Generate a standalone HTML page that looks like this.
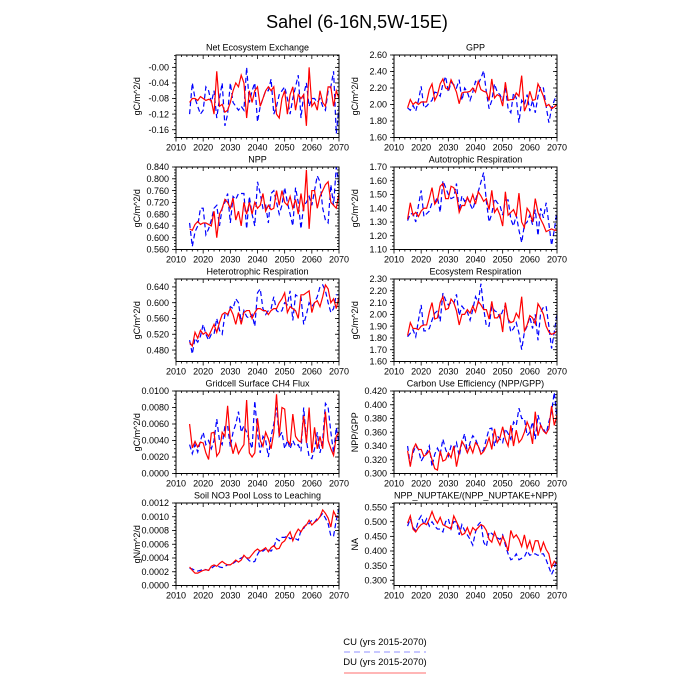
<!DOCTYPE html>
<html><head><meta charset="utf-8"><style>
html,body{margin:0;padding:0;background:#fff;}
svg{display:block;font-family:"Liberation Sans",Arial,sans-serif;}
</style></head><body>
<svg id="chart" width="700" height="700" viewBox="0 0 700 700">
<text x="357" y="28" font-size="18" text-anchor="middle">Sahel (6-16N,5W-15E)</text>
<g>
<text x="385" y="645" font-size="9.5" text-anchor="middle">CU (yrs 2015-2070)</text>
<line x1="344" y1="652" x2="426" y2="652" stroke="#a8a8ff" stroke-width="1.2" stroke-dasharray="6,4"/>
<text x="385" y="665" font-size="9.5" text-anchor="middle">DU (yrs 2015-2070)</text>
<line x1="344" y1="673" x2="426" y2="673" stroke="#ff8a8a" stroke-width="1.2"/>
</g>
</svg>
<script>
const years = [2010, 2020, 2030, 2040, 2050, 2060, 2070];
const startYear = 2015;

const neeRed = [-0.09,-0.08,-0.08,-0.085,-0.075,-0.08,-0.085,-0.082,-0.085,-0.12,
-0.01,-0.10,-0.095,-0.115,-0.11,-0.09,-0.06,-0.04,-0.05,-0.02,
-0.04,-0.13,-0.06,-0.09,-0.06,-0.05,-0.10,-0.08,-0.06,-0.05,
-0.06,-0.05,-0.12,-0.13,-0.08,-0.06,-0.12,-0.07,-0.05,-0.11,
-0.07,-0.08,-0.07,-0.15,0.0,-0.10,-0.09,-0.11,-0.06,-0.09,
-0.10,-0.05,-0.05,-0.10,-0.06,-0.08];
const neeBlue = [-0.12,-0.04,-0.08,-0.10,-0.12,-0.11,-0.05,-0.06,-0.09,-0.06,
-0.13,-0.08,-0.04,-0.15,-0.12,-0.04,-0.09,-0.10,-0.11,-0.10,
-0.11,0.0,-0.09,-0.06,-0.04,-0.14,-0.10,-0.08,-0.06,-0.06,
-0.03,-0.12,-0.10,-0.07,-0.06,-0.05,-0.08,-0.12,-0.08,-0.05,
-0.02,-0.13,-0.07,-0.04,-0.10,-0.08,-0.08,-0.09,-0.08,-0.10,
-0.11,-0.06,-0.05,-0.01,-0.17,-0.10];
const neeTicks = [0,-0.04,-0.08,-0.12,-0.16];
const neeTickLabels = ["-0.00","-0.04","-0.08","-0.12","-0.16"];

const gppRed = [1.96,2.06,2.00,2.03,2.00,2.03,2.03,2.03,2.18,2.25,
2.05,2.12,2.25,2.31,2.20,2.18,2.30,2.23,2.15,2.01,
2.14,2.15,2.15,2.16,2.20,2.15,2.28,2.18,2.16,2.15,
2.05,2.31,2.08,2.12,2.10,1.98,2.27,2.05,2.06,2.06,
2.14,2.10,2.35,1.92,2.00,2.16,2.05,2.06,2.25,2.18,
2.10,1.98,2.00,1.95,1.97,2.00];
const gppBlue = [1.96,1.93,1.99,1.92,2.05,2.22,1.96,1.98,2.02,2.05,
2.15,2.14,2.10,2.25,2.34,2.15,2.27,2.24,2.20,2.30,
2.05,2.20,2.15,2.05,2.15,2.28,2.25,2.32,2.41,2.15,
1.95,2.05,2.25,2.15,2.12,2.05,2.22,1.95,1.90,2.14,
2.08,1.78,2.05,2.00,2.12,1.92,2.05,1.90,2.10,2.22,
2.20,1.98,1.78,1.95,2.05,2.12];
const gppTicks = [1.6,1.8,2.0,2.2,2.4,2.6];
const gppTickLabels = ["1.60","1.80","2.00","2.20","2.40","2.60"];

const nppRed = [0.63,0.625,0.645,0.655,0.645,0.65,0.65,0.645,0.64,0.69,
0.60,0.68,0.70,0.73,0.72,0.70,0.735,0.66,0.69,0.64,
0.72,0.68,0.72,0.68,0.72,0.70,0.71,0.75,0.69,0.71,
0.695,0.70,0.76,0.71,0.76,0.72,0.71,0.74,0.70,0.73,
0.68,0.75,0.69,0.83,0.63,0.76,0.76,0.70,0.74,0.76,
0.78,0.79,0.72,0.71,0.70,0.75];
const nppBlue = [0.65,0.57,0.62,0.64,0.70,0.70,0.61,0.63,0.66,0.70,
0.71,0.64,0.70,0.72,0.75,0.65,0.74,0.73,0.75,0.75,
0.75,0.63,0.74,0.68,0.64,0.79,0.75,0.70,0.71,0.65,
0.75,0.76,0.72,0.68,0.71,0.77,0.72,0.68,0.64,0.77,
0.72,0.63,0.71,0.72,0.74,0.71,0.76,0.81,0.79,0.70,
0.66,0.65,0.78,0.71,0.84,0.78];
const nppTicks = [0.56,0.60,0.64,0.68,0.72,0.76,0.80,0.84];
const nppTickLabels = ["0.560","0.600","0.640","0.680","0.720","0.760","0.800","0.840"];

const arRed = [1.32,1.44,1.35,1.37,1.34,1.38,1.40,1.40,1.47,1.55,
1.43,1.46,1.56,1.58,1.47,1.47,1.56,1.55,1.50,1.37,
1.42,1.42,1.48,1.44,1.50,1.43,1.52,1.49,1.45,1.47,
1.39,1.53,1.37,1.40,1.35,1.27,1.52,1.35,1.37,1.39,
1.34,1.51,1.30,1.26,1.40,1.37,1.30,1.47,1.37,1.32,
1.28,1.23,1.24,1.25,1.24,1.24];
const arBlue = [1.31,1.36,1.36,1.30,1.42,1.53,1.34,1.36,1.38,1.44,
1.44,1.48,1.37,1.60,1.55,1.50,1.47,1.48,1.58,1.38,
1.49,1.45,1.48,1.43,1.39,1.46,1.52,1.59,1.66,1.45,
1.30,1.36,1.47,1.44,1.42,1.35,1.46,1.46,1.32,1.27,
1.35,1.24,1.15,1.28,1.30,1.35,1.28,1.39,1.20,1.40,
1.33,1.44,1.29,1.13,1.24,1.38];
const arTicks = [1.1,1.2,1.3,1.4,1.5,1.6,1.7];
const arTickLabels = ["1.10","1.20","1.30","1.40","1.50","1.60","1.70"];

const hrRed = [0.50,0.49,0.525,0.51,0.53,0.52,0.525,0.515,0.53,0.545,
0.525,0.55,0.57,0.575,0.57,0.585,0.57,0.545,0.575,0.545,
0.575,0.58,0.58,0.56,0.575,0.585,0.585,0.58,0.58,0.57,
0.58,0.585,0.585,0.60,0.61,0.625,0.575,0.59,0.585,0.58,
0.56,0.62,0.62,0.625,0.63,0.575,0.60,0.605,0.59,0.615,
0.645,0.635,0.60,0.61,0.585,0.615];
const hrBlue = [0.505,0.47,0.51,0.50,0.515,0.545,0.52,0.505,0.52,0.52,
0.56,0.53,0.52,0.57,0.565,0.59,0.585,0.61,0.60,0.55,
0.58,0.565,0.56,0.57,0.54,0.625,0.635,0.585,0.57,0.58,
0.585,0.615,0.58,0.575,0.58,0.60,0.595,0.63,0.555,0.62,
0.615,0.615,0.545,0.57,0.60,0.59,0.60,0.615,0.64,0.645,
0.63,0.60,0.575,0.585,0.62,0.62];
const hrTicks = [0.48,0.52,0.56,0.60,0.64];
const hrTickLabels = ["0.480","0.520","0.560","0.600","0.640"];

const erRed = [1.82,1.93,1.88,1.88,1.87,1.90,1.91,1.91,2.02,2.10,
1.96,1.97,2.10,2.15,2.04,2.05,2.13,2.10,2.03,1.91,
2.00,2.00,2.04,2.01,2.07,2.02,2.11,2.08,2.04,2.04,
1.96,2.11,1.97,1.97,2.00,1.85,2.10,1.96,1.93,1.94,
2.01,1.97,2.15,1.86,1.91,1.99,1.97,1.92,2.09,2.05,
2.00,1.90,1.85,1.83,1.84,1.86];
const erBlue = [1.81,1.84,1.87,1.81,1.95,2.08,1.86,1.86,1.88,1.95,
2.01,2.03,1.94,2.18,2.12,2.08,2.10,2.09,2.17,1.99,
2.07,2.04,2.02,1.95,2.04,2.15,2.10,2.26,2.05,1.90,
1.90,2.07,2.03,2.02,1.97,2.03,2.08,1.97,1.85,1.88,
1.93,1.84,1.70,1.85,1.90,1.98,1.88,2.00,1.78,2.02,
2.06,2.07,1.90,1.71,1.85,2.00];
const erTicks = [1.6,1.7,1.8,1.9,2.0,2.1,2.2,2.3];
const erTickLabels = ["1.60","1.70","1.80","1.90","2.00","2.10","2.20","2.30"];

const ch4Red = [0.0060,0.0031,0.0039,0.0032,0.0038,0.0037,0.0025,0.0017,0.0049,0.0050,
0.0021,0.0026,0.0050,0.0045,0.0082,0.0040,0.0024,0.0036,0.0024,0.0030,
0.0035,0.0089,0.0025,0.0020,0.0025,0.0067,0.0040,0.0033,0.0050,0.0042,
0.0030,0.0050,0.0096,0.0045,0.0080,0.0078,0.0040,0.0035,0.0072,0.0045,
0.0040,0.0038,0.0070,0.0037,0.0080,0.0025,0.0056,0.0030,0.0045,0.0030,
0.0075,0.0040,0.0030,0.0022,0.0045,0.0050];
const ch4Blue = [0.0035,0.0024,0.0035,0.0026,0.0040,0.0050,0.0035,0.0040,0.0030,0.0040,
0.0066,0.0040,0.0035,0.0057,0.0058,0.0032,0.0050,0.0060,0.0075,0.0050,
0.0058,0.0050,0.0040,0.0030,0.0088,0.0050,0.0025,0.0045,0.0040,0.0020,
0.0045,0.0060,0.0080,0.0045,0.0050,0.0030,0.0040,0.0030,0.0040,0.0033,
0.0035,0.0027,0.0080,0.0040,0.0020,0.0018,0.0030,0.0050,0.0025,0.0040,
0.0085,0.0080,0.0050,0.0025,0.0056,0.0035];
const ch4Ticks = [0,0.002,0.004,0.006,0.008,0.010];
const ch4TickLabels = ["0.0000","0.0020","0.0040","0.0060","0.0080","0.0100"];

const cueRed = [0.333,0.310,0.335,0.343,0.335,0.335,0.325,0.328,0.333,0.320,
0.307,0.305,0.333,0.318,0.320,0.330,0.323,0.340,0.310,0.330,
0.347,0.340,0.330,0.340,0.330,0.345,0.340,0.328,0.332,0.340,
0.352,0.335,0.365,0.345,0.352,0.368,0.350,0.340,0.370,0.340,
0.363,0.345,0.350,0.360,0.375,0.365,0.343,0.390,0.355,0.370,
0.362,0.358,0.365,0.398,0.370,0.385];
const cueBlue = [0.340,0.312,0.330,0.340,0.335,0.318,0.325,0.330,0.340,0.310,
0.328,0.337,0.328,0.350,0.335,0.325,0.340,0.335,0.345,0.325,
0.345,0.358,0.330,0.345,0.355,0.350,0.340,0.330,0.335,0.350,
0.365,0.366,0.340,0.355,0.350,0.345,0.365,0.358,0.350,0.375,
0.370,0.395,0.380,0.380,0.355,0.360,0.375,0.350,0.385,0.370,
0.365,0.358,0.375,0.390,0.418,0.380];
const cueTicks = [0.30,0.32,0.34,0.36,0.38,0.40,0.42];
const cueTickLabels = ["0.300","0.320","0.340","0.360","0.380","0.400","0.420"];

const no3Red = [0.00027,0.00022,0.00018,0.00018,0.00020,0.00022,0.00023,0.00022,0.00028,0.00030,
0.00028,0.00032,0.00035,0.00032,0.00030,0.00030,0.00033,0.00037,0.00034,0.00037,
0.00044,0.00040,0.00040,0.00045,0.00050,0.00053,0.00050,0.00052,0.00055,0.00049,
0.00055,0.00058,0.00053,0.00054,0.00062,0.00065,0.00072,0.00078,0.00065,0.00075,
0.00082,0.00078,0.00085,0.00088,0.00095,0.00088,0.00092,0.00095,0.00100,0.00110,
0.00105,0.00098,0.00085,0.00108,0.00100,0.00099];
const no3Blue = [0.00025,0.00024,0.00022,0.00021,0.00022,0.00024,0.00023,0.00022,0.00025,0.00028,
0.00030,0.00027,0.00026,0.00028,0.00030,0.00030,0.00032,0.00035,0.00038,0.00040,
0.00042,0.00040,0.00036,0.00034,0.00035,0.00045,0.00052,0.00050,0.00053,0.00052,
0.00050,0.00055,0.00068,0.00065,0.00070,0.00070,0.00072,0.00068,0.00070,0.00068,
0.00066,0.00080,0.00083,0.00090,0.00090,0.00095,0.00092,0.00098,0.00100,0.00105,
0.00098,0.00090,0.00072,0.00072,0.00095,0.00112];
const no3Ticks = [0,0.0002,0.0004,0.0006,0.0008,0.0010,0.0012];
const no3TickLabels = ["0.0000","0.0002","0.0004","0.0006","0.0008","0.0010","0.0012"];

const naRed = [0.495,0.52,0.475,0.465,0.48,0.49,0.495,0.49,0.51,0.535,
0.51,0.495,0.515,0.49,0.485,0.48,0.475,0.52,0.50,0.48,
0.455,0.46,0.48,0.455,0.48,0.47,0.48,0.49,0.485,0.47,
0.44,0.43,0.465,0.44,0.42,0.45,0.43,0.40,0.47,0.445,
0.455,0.44,0.415,0.455,0.41,0.435,0.40,0.435,0.435,0.40,
0.43,0.405,0.39,0.345,0.365,0.355];
const naBlue = [0.485,0.51,0.48,0.47,0.505,0.52,0.49,0.51,0.485,0.50,
0.485,0.475,0.475,0.465,0.50,0.51,0.475,0.50,0.50,0.455,
0.49,0.47,0.455,0.44,0.42,0.465,0.49,0.50,0.43,0.415,
0.465,0.46,0.45,0.445,0.44,0.455,0.42,0.39,0.37,0.375,
0.39,0.37,0.375,0.38,0.40,0.385,0.39,0.39,0.385,0.39,
0.39,0.37,0.345,0.32,0.34,0.38];
const naTicks = [0.30,0.35,0.40,0.45,0.50,0.55];
const naTickLabels = ["0.300","0.350","0.400","0.450","0.500","0.550"];

const NS = "http://www.w3.org/2000/svg";
const svg = document.getElementById("chart");
function mk(tag, attrs, parent) {
  const e = document.createElementNS(NS, tag);
  for (const k in attrs) e.setAttribute(k, attrs[k]);
  parent.appendChild(e);
  return e;
}

const panels = [
  {name:"nee", title:"Net Ecosystem Exchange", ytitle:"gC/m^2/d", col:0, row:0, ymin:-0.18, ymax:0.0317, minor:0.01, red:neeRed, blue:neeBlue, ticks:neeTicks, labels:neeTickLabels},
  {name:"gpp", title:"GPP", ytitle:"gC/m^2/d", col:1, row:0, ymin:1.6, ymax:2.6, minor:0.05, red:gppRed, blue:gppBlue, ticks:gppTicks, labels:gppTickLabels},
  {name:"npp", title:"NPP", ytitle:"gC/m^2/d", col:0, row:1, ymin:0.56, ymax:0.84, minor:0.01, red:nppRed, blue:nppBlue, ticks:nppTicks, labels:nppTickLabels},
  {name:"ar", title:"Autotrophic Respiration", ytitle:"gC/m^2/d", col:1, row:1, ymin:1.1, ymax:1.7, minor:0.025, red:arRed, blue:arBlue, ticks:arTicks, labels:arTickLabels},
  {name:"hr", title:"Heterotrophic Respiration", ytitle:"gC/m^2/d", col:0, row:2, ymin:0.451, ymax:0.66, minor:0.01, red:hrRed, blue:hrBlue, ticks:hrTicks, labels:hrTickLabels},
  {name:"er", title:"Ecosystem Respiration", ytitle:"gC/m^2/d", col:1, row:2, ymin:1.6, ymax:2.3, minor:0.025, red:erRed, blue:erBlue, ticks:erTicks, labels:erTickLabels},
  {name:"ch4", title:"Gridcell Surface CH4 Flux", ytitle:"gC/m^2/d", col:0, row:3, ymin:0, ymax:0.010, minor:0.0005, red:ch4Red, blue:ch4Blue, ticks:ch4Ticks, labels:ch4TickLabels},
  {name:"cue", title:"Carbon Use Efficiency (NPP/GPP)", ytitle:"NPP/GPP", col:1, row:3, ymin:0.30, ymax:0.42, minor:0.005, red:cueRed, blue:cueBlue, ticks:cueTicks, labels:cueTickLabels},
  {name:"no3", title:"Soil NO3 Pool Loss to Leaching", ytitle:"gN/m^2/d", col:0, row:4, ymin:0, ymax:0.0012, minor:0.00005, red:no3Red, blue:no3Blue, ticks:no3Ticks, labels:no3TickLabels},
  {name:"na", title:"NPP_NUPTAKE/(NPP_NUPTAKE+NPP)", ytitle:"NA", col:1, row:4, ymin:0.282, ymax:0.564, minor:0.0125, red:naRed, blue:naBlue, ticks:naTicks, labels:naTickLabels}
];

const colX = [176, 394];
const plotW = 163;
const rowY = [55, 167, 279, 391, 503];
const plotH = 82.5;

panels.forEach(p => {
  const x0 = colX[p.col], y0 = rowY[p.row];
  const g = mk("g", {}, svg);
  
  
  const xs = yr => x0 + (yr - 2010) / 60 * plotW;
  const ys = v => y0 + plotH - (v - p.ymin) / (p.ymax - p.ymin) * plotH;

  const t = mk("text", {x: x0 + plotW/2, y: y0 - 4.5, "font-size": 9, "text-anchor": "middle"}, g);
  t.textContent = p.title;
  
  

  const yt = mk("text", {x: 0, y: 0, "font-size": 9, "text-anchor": "middle", transform: `translate(${x0 - 36},${y0 + plotH/2}) rotate(-90)`}, g);
  yt.textContent = p.ytitle;
  
  

  const mkPath = (arr) => arr.map((v, i) => (i ? "L" : "M") + xs(startYear + i).toFixed(2) + "," + ys(v).toFixed(2)).join(" ");
  const pb = mk("path", {d: mkPath(p.blue), fill: "none", stroke: "#0000ff", "stroke-width": 1.2, "stroke-dasharray": "5,3"}, g);
  
  
  const pr = mk("path", {d: mkPath(p.red), fill: "none", stroke: "#ff0000", "stroke-width": 1.2}, g);
  
  

  const fr = mk("rect", {x: x0, y: y0, width: plotW, height: plotH, fill: "none", stroke: "#000", "stroke-width": 1}, g);
  
  

  const xa = mk("g", {stroke: "#000", "stroke-width": 0.8}, g);
  
  
  for (let yr = 2010; yr <= 2070; yr += 2) {
    const major = (yr % 10 === 0);
    const L = major ? 4 : 2;
    const xx = xs(yr);
    mk("line", {x1: xx, x2: xx, y1: y0 + plotH, y2: y0 + plotH + L}, xa);
    mk("line", {x1: xx, x2: xx, y1: y0, y2: y0 + L}, xa);
  }
  years.forEach(yr => {
    const lt = mk("text", {x: xs(yr), y: y0 + plotH + 13, "font-size": 9, "text-anchor": "middle", stroke: "none"}, g);
    lt.textContent = String(yr);
    
    
  });

  const ya = mk("g", {stroke: "#000", "stroke-width": 0.8}, g);
  
  
  const nMinor = Math.round((p.ymax - p.ymin) / p.minor) + 2;
  const mStart = Math.ceil(p.ymin / p.minor - 1e-6) * p.minor;
  for (let k = 0; k < nMinor; k++) {
    const v = mStart + k * p.minor;
    if (v > p.ymax + 1e-9) break;
    const yy = ys(v);
    mk("line", {x1: x0, x2: x0 - 2, y1: yy, y2: yy}, ya);
    mk("line", {x1: x0 + plotW, x2: x0 + plotW - 2, y1: yy, y2: yy}, ya);
  }
  p.ticks.forEach((v, i) => {
    const yy = ys(v);
    mk("line", {x1: x0, x2: x0 - 4, y1: yy, y2: yy}, ya);
    mk("line", {x1: x0 + plotW, x2: x0 + plotW - 4, y1: yy, y2: yy}, ya);
    const lt = mk("text", {x: x0 - 7, y: yy + 3.2, "font-size": 9, "text-anchor": "end"}, g);
    lt.textContent = p.labels[i];
    
    
  });
});
</script>
</body></html>
